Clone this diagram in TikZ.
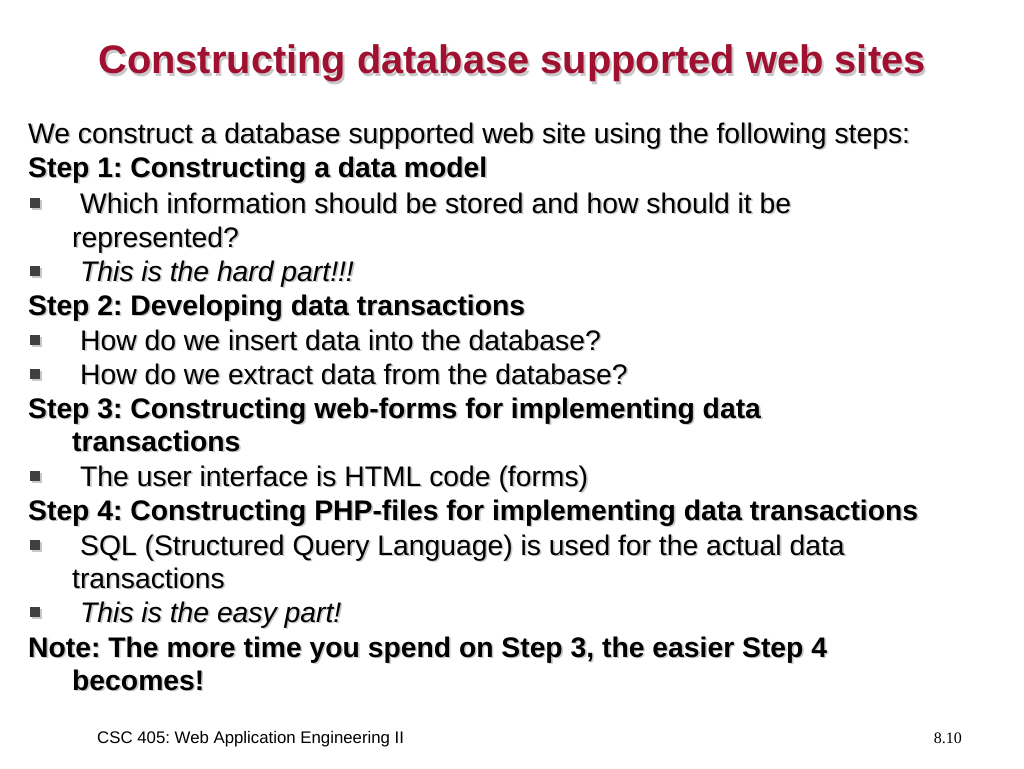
\documentclass[tikz,border=0pt]{standalone}
\usepackage{fontspec}
\setmainfont{Liberation Sans}
\newfontfamily\serifnum{Liberation Serif}
\definecolor{titlered}{RGB}{160,16,48}
\definecolor{shgray}{RGB}{200,200,200}
\newcommand\shtext[4]{%
  \node[txt,text=shgray] at (#2+1.6,#3+1.6) {#4};
  \node[txt] (#1) at (#2,#3) {#4};}
\newcommand\bul[2]{%
  \fill[shgray] (31.5,#2-3.5) rectangle +(10,10);
  \fill[black!75] (30,#2-5) rectangle +(10,10);
  \coordinate (#1) at (30,#2);}
\begin{document}
\frenchspacing
\begin{tikzpicture}[x=1pt,y=-1pt,
  txt/.style={anchor=base west,inner sep=0pt,font=\fontsize{28.3}{30}\selectfont\frenchspacing}]
\useasboundingbox (0,0) rectangle (1024,768);
\node[anchor=base,inner sep=0pt,font=\fontsize{39.8}{42}\bfseries\selectfont,text=shgray] at (514,76) {Constructing database supported web sites};
\node[anchor=base,inner sep=0pt,font=\fontsize{39.8}{42}\bfseries\selectfont,text=titlered] (title) at (512,74) {Constructing database supported web sites};
\shtext{l1}{28}{143}{We construct a database supported web site using the following steps:}
\shtext{l2}{28}{177}{\bfseries Step 1: Constructing a data model}
\bul{b1}{203}\shtext{l3}{80}{213}{Which information should be stored and how should it be}
\shtext{l4}{72}{247}{represented?}
\bul{b2}{271}\shtext{l5}{80}{281}{\itshape This is the hard part!!!}
\shtext{l6}{28}{315}{\bfseries Step 2: Developing data transactions}
\bul{b3}{340}\shtext{l7}{80}{350}{How do we insert data into the database?}
\bul{b4}{374}\shtext{l8}{80}{384}{How do we extract data from the database?}
\shtext{l9}{28}{418}{\bfseries Step 3: Constructing web-forms for implementing data}
\shtext{l10}{72}{451}{\bfseries transactions}
\bul{b5}{476}\shtext{l11}{80}{486}{The user interface is HTML code (forms)}
\shtext{l12}{28}{520}{\bfseries Step 4: Constructing PHP-files for implementing data transactions}
\bul{b6}{545}\shtext{l13}{80}{555}{SQL (Structured Query Language) is used for the actual data}
\shtext{l14}{72}{588}{transactions}
\bul{b7}{612}\shtext{l15}{80}{622}{\itshape This is the easy part!}
\shtext{l16}{28}{657}{\bfseries Note: The more time you spend on Step 3, the easier Step 4}
\shtext{l17}{72}{690}{\bfseries becomes!}
\node[anchor=base west,inner sep=0pt,font=\fontsize{16.8}{18}\selectfont] (foot) at (97,743) {CSC 405: Web Application Engineering II};
\node[anchor=base east,inner sep=0pt,font=\serifnum\fontsize{16}{18}\selectfont] (page) at (962,743) {8.10};
\end{tikzpicture}
\end{document}
